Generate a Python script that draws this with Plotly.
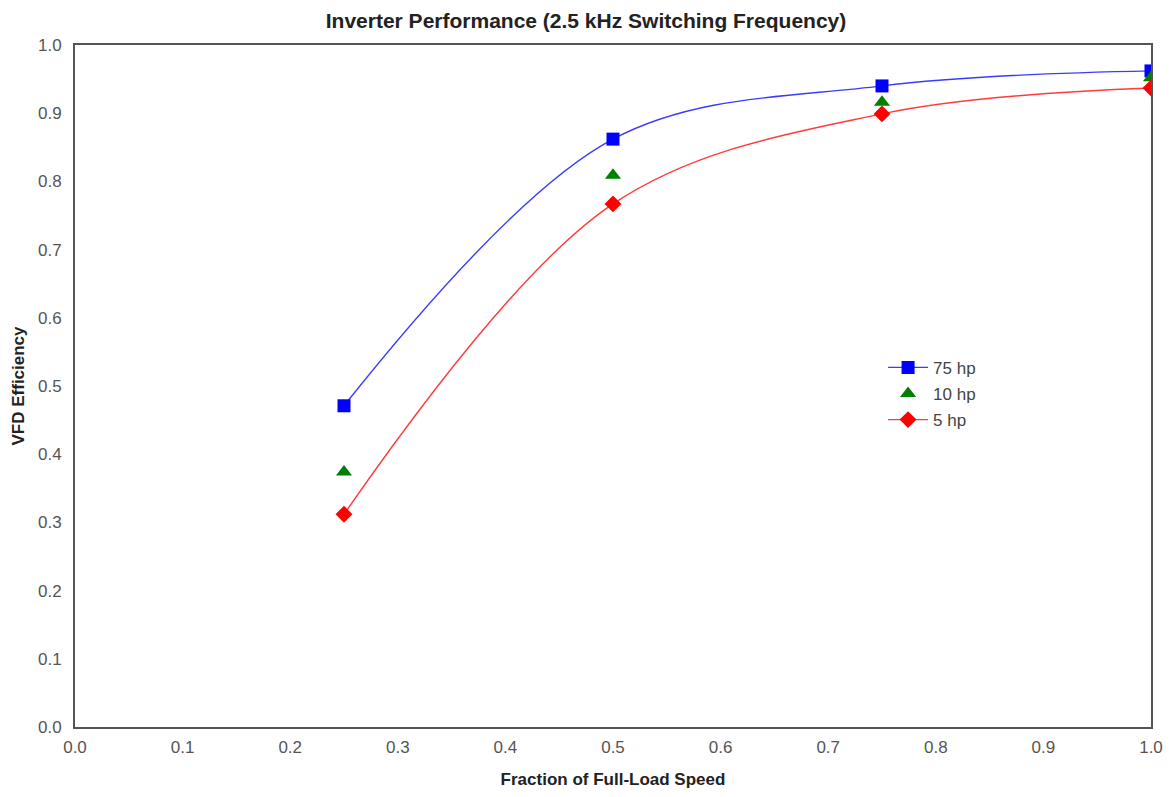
import plotly.graph_objects as go

speed = [0.25, 0.5, 0.75, 1.0]
eff_75hp = [0.471, 0.862, 0.940, 0.962]
eff_10hp = [0.374, 0.809, 0.916, 0.952]
eff_5hp = [0.312, 0.767, 0.899, 0.937]
x_ticks = [0.0, 0.1, 0.2, 0.3, 0.4, 0.5, 0.6, 0.7, 0.8, 0.9, 1.0]
y_ticks = [0.0, 0.1, 0.2, 0.3, 0.4, 0.5, 0.6, 0.7, 0.8, 0.9, 1.0]

fig = go.Figure()
fig.add_trace(go.Scatter(x=speed, y=eff_75hp, name="75 hp", mode="lines+markers", legendgroup="a",
                         line=dict(color="#3b3bff", width=1.4, shape="spline", smoothing=1.0),
                         marker=dict(symbol="square", size=13, color="#0000ff")))
fig.add_trace(go.Scatter(x=speed, y=eff_10hp, name="10 hp", mode="markers", legendgroup="b",
                         marker=dict(symbol="triangle-up", size=14, color="#008000")))
fig.add_trace(go.Scatter(x=speed, y=eff_5hp, name="5 hp", mode="lines+markers", legendgroup="c",
                         line=dict(color="#ff3b3b", width=1.4, shape="spline", smoothing=1.0),
                         marker=dict(symbol="diamond", size=13, color="#ff0000")))

fig.update_layout(
    width=1156, height=781,
    margin=dict(l=67, r=13, t=37, b=62),
    paper_bgcolor="white", plot_bgcolor="white",
    font=dict(family="Liberation Sans, Arial, sans-serif", size=17, color="#555555"),
    title=dict(text="<b>Inverter Performance (2.5 kHz Switching Frequency)</b>",
               x=0.5, xanchor="center", y=0.984, yanchor="middle",
               font=dict(size=21, color="#222222")),
    legend=dict(x=0.751, y=0.553, xanchor="left", yanchor="top",
                bgcolor="rgba(0,0,0,0)", font=dict(size=17, color="#444444"),
                itemwidth=40, tracegroupgap=1),
    showlegend=True,
)
fig.update_xaxes(range=[0, 1.0], tickvals=x_ticks, ticktext=[f"{v:.1f}" for v in x_ticks],
                 showgrid=False, zeroline=False, showline=True, linecolor="#555555",
                 linewidth=2, mirror=True, ticks="", automargin=False, ticklabelstandoff=4,
                 title=dict(text="<b>Fraction of Full-Load Speed</b>", font=dict(size=17, color="#222222"),
                            standoff=25))
fig.update_yaxes(range=[0, 1.0], tickvals=y_ticks, ticktext=[f"{v:.1f}" for v in y_ticks],
                 showgrid=False, zeroline=False, showline=True, linecolor="#555555",
                 linewidth=2, mirror=True, ticks="", automargin=False, ticklabelstandoff=8,
                 title=dict(text="<b>VFD Efficiency</b>", font=dict(size=17, color="#222222"),
                            standoff=9))

fig.write_html("out.html")
